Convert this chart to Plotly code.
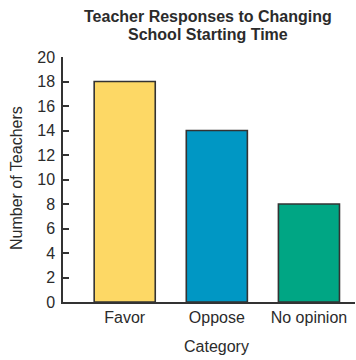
import plotly.graph_objects as go

categories = ["Favor", "Oppose", "No opinion"]
teachers = [18, 14, 8]
bar_colors = ["#FDD865", "#0097C4", "#00A684"]
y_ticks = list(range(0, 21, 2))

FONT = "Liberation Sans, Arial, Helvetica, sans-serif"
TXT = "#2b2b2b"
LINE = "#333333"

fig = go.Figure(go.Bar(
    x=categories, y=teachers,
    marker=dict(color=bar_colors, line=dict(color=LINE, width=1.6)),
    width=0.663,
))

fig.update_layout(
    width=356, height=360,
    margin=dict(l=63, r=1, t=57, b=58),
    paper_bgcolor="white", plot_bgcolor="white",
    font=dict(family=FONT, size=16, color=TXT),
    showlegend=False,
    annotations=[
        dict(text="<b>Teacher Responses to Changing</b>", xref="paper", yref="paper",
             x=0.497, y=1.1673, xanchor="center", yanchor="middle", showarrow=False,
             font=dict(size=16, color=TXT)),
        dict(text="<b>School Starting Time</b>", xref="paper", yref="paper",
             x=0.497, y=1.0898, xanchor="center", yanchor="middle", showarrow=False,
             font=dict(size=16, color=TXT)),
        dict(text="Number of Teachers", xref="paper", yref="paper",
             x=-0.161, y=0.506, xanchor="center", yanchor="middle", textangle=-90,
             showarrow=False, font=dict(size=16, color=TXT)),
        dict(text="Category", xref="x", yref="paper",
             x=1, y=-0.1796, xanchor="center", yanchor="middle",
             showarrow=False, font=dict(size=16, color=TXT)),
    ],
)

fig.update_xaxes(
    type="category", range=[-0.67, 2.5],
    showline=True, linecolor=LINE, linewidth=1.5,
    ticks="", showgrid=False, zeroline=False,
    tickfont=dict(size=16, color=TXT),
)
fig.update_yaxes(
    range=[0, 20], tickvals=y_ticks, ticktext=[str(v) for v in y_ticks],
    showline=True, linecolor=LINE, linewidth=1.5,
    ticks="inside", ticklen=6, tickwidth=1.5, tickcolor=LINE,
    ticklabelstandoff=3,
    showgrid=False, zeroline=False,
    tickfont=dict(size=16, color=TXT),
)

fig.write_html("out.html")
